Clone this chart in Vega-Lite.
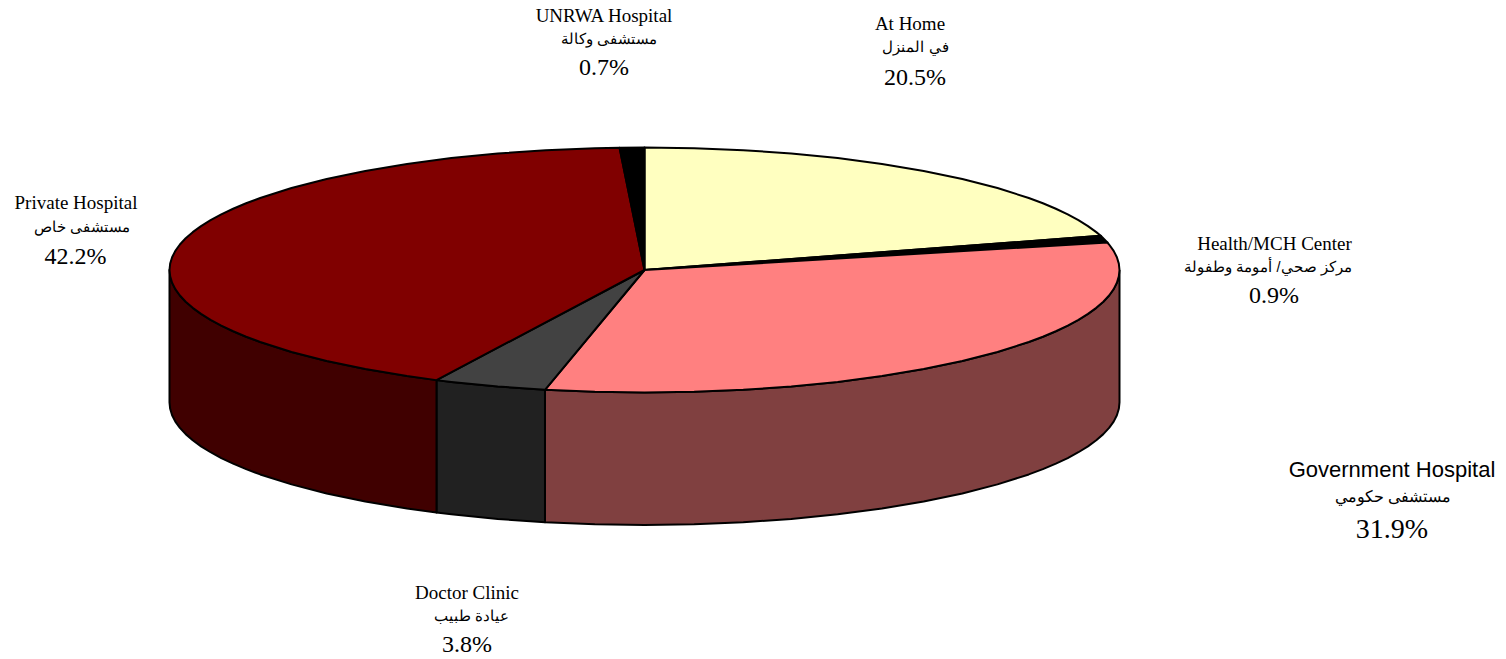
{"$schema":"https://vega.github.io/schema/vega-lite/v6.json","width":1506,"height":659,"autosize":{"type":"fit","contains":"padding"},"padding":0,"background":"white","view":{"stroke":null},
"datasets":{
"faces":[
{"f":"Government side","s":1,"x":1,"y":0},{"f":"Government side","s":2,"x":0.9945,"y":-0.1045},{"f":"Government side","s":3,"x":0.9781,"y":-0.2079},{"f":"Government side","s":4,"x":0.9511,"y":-0.309},{"f":"Government side","s":5,"x":0.9135,"y":-0.4067},{"f":"Government side","s":6,"x":0.866,"y":-0.5},{"f":"Government side","s":7,"x":0.809,"y":-0.5878},{"f":"Government side","s":8,"x":0.7431,"y":-0.6691},{"f":"Government side","s":9,"x":0.6691,"y":-0.7431},{"f":"Government side","s":10,"x":0.5878,"y":-0.809},{"f":"Government side","s":11,"x":0.5,"y":-0.866},{"f":"Government side","s":12,"x":0.4067,"y":-0.9135},{"f":"Government side","s":13,"x":0.309,"y":-0.9511},{"f":"Government side","s":14,"x":0.2079,"y":-0.9781},{"f":"Government side","s":15,"x":0.1045,"y":-0.9945},{"f":"Government side","s":16,"x":0,"y":-1},{"f":"Government side","s":17,"x":-0.1045,"y":-0.9945},{"f":"Government side","s":18,"x":-0.2095,"y":-0.9778},
{"f":"Government side","s":19,"x":-0.2095,"y":-2.0588},{"f":"Government side","s":20,"x":-0.1045,"y":-2.0755},{"f":"Government side","s":21,"x":0,"y":-2.081},{"f":"Government side","s":22,"x":0.1045,"y":-2.0755},{"f":"Government side","s":23,"x":0.2079,"y":-2.0591},{"f":"Government side","s":24,"x":0.309,"y":-2.0321},{"f":"Government side","s":25,"x":0.4067,"y":-1.9945},{"f":"Government side","s":26,"x":0.5,"y":-1.947},{"f":"Government side","s":27,"x":0.5878,"y":-1.89},{"f":"Government side","s":28,"x":0.6691,"y":-1.8241},{"f":"Government side","s":29,"x":0.7431,"y":-1.7501},{"f":"Government side","s":30,"x":0.809,"y":-1.6688},{"f":"Government side","s":31,"x":0.866,"y":-1.581},{"f":"Government side","s":32,"x":0.9135,"y":-1.4877},{"f":"Government side","s":33,"x":0.9511,"y":-1.39},{"f":"Government side","s":34,"x":0.9781,"y":-1.2889},{"f":"Government side","s":35,"x":0.9945,"y":-1.1855},{"f":"Government side","s":36,"x":1,"y":-1.081},{"f":"Government side","s":37,"x":1,"y":0},
{"f":"Government side","s":1.5,"x":0.9986,"y":-0.0523},{"f":"Government side","s":2.5,"x":0.9877,"y":-0.1564},{"f":"Government side","s":3.5,"x":0.9659,"y":-0.2588},{"f":"Government side","s":4.5,"x":0.9336,"y":-0.3584},{"f":"Government side","s":5.5,"x":0.891,"y":-0.454},{"f":"Government side","s":6.5,"x":0.8387,"y":-0.5446},
{"f":"Government side","s":30.5,"x":0.8387,"y":-1.6256},{"f":"Government side","s":31.5,"x":0.891,"y":-1.535},{"f":"Government side","s":32.5,"x":0.9336,"y":-1.4394},{"f":"Government side","s":33.5,"x":0.9659,"y":-1.3398},{"f":"Government side","s":34.5,"x":0.9877,"y":-1.2374},{"f":"Government side","s":35.5,"x":0.9986,"y":-1.1333},
{"f":"Doctor side","s":1,"x":-0.2095,"y":-0.9778},{"f":"Doctor side","s":2,"x":-0.309,"y":-0.9511},{"f":"Doctor side","s":3,"x":-0.4067,"y":-0.9135},{"f":"Doctor side","s":4,"x":-0.4379,"y":-0.899},{"f":"Doctor side","s":5,"x":-0.4379,"y":-1.98},{"f":"Doctor side","s":6,"x":-0.4067,"y":-1.9945},{"f":"Doctor side","s":7,"x":-0.309,"y":-2.0321},{"f":"Doctor side","s":8,"x":-0.2095,"y":-2.0588},{"f":"Doctor side","s":9,"x":-0.2095,"y":-0.9778},
{"f":"Private side","s":1,"x":-0.4379,"y":-0.899},{"f":"Private side","s":2,"x":-0.5,"y":-0.866},{"f":"Private side","s":3,"x":-0.5878,"y":-0.809},{"f":"Private side","s":4,"x":-0.6691,"y":-0.7431},{"f":"Private side","s":5,"x":-0.7431,"y":-0.6691},{"f":"Private side","s":6,"x":-0.809,"y":-0.5878},{"f":"Private side","s":7,"x":-0.866,"y":-0.5},{"f":"Private side","s":8,"x":-0.9135,"y":-0.4067},{"f":"Private side","s":9,"x":-0.9511,"y":-0.309},{"f":"Private side","s":10,"x":-0.9781,"y":-0.2079},{"f":"Private side","s":11,"x":-0.9945,"y":-0.1045},{"f":"Private side","s":12,"x":-1,"y":0},
{"f":"Private side","s":13,"x":-1,"y":-1.081},{"f":"Private side","s":14,"x":-0.9945,"y":-1.1855},{"f":"Private side","s":15,"x":-0.9781,"y":-1.2889},{"f":"Private side","s":16,"x":-0.9511,"y":-1.39},{"f":"Private side","s":17,"x":-0.9135,"y":-1.4877},{"f":"Private side","s":18,"x":-0.866,"y":-1.581},{"f":"Private side","s":19,"x":-0.809,"y":-1.6688},{"f":"Private side","s":20,"x":-0.7431,"y":-1.7501},{"f":"Private side","s":21,"x":-0.6691,"y":-1.8241},{"f":"Private side","s":22,"x":-0.5878,"y":-1.89},{"f":"Private side","s":23,"x":-0.5,"y":-1.947},{"f":"Private side","s":24,"x":-0.4379,"y":-1.98},{"f":"Private side","s":25,"x":-0.4379,"y":-0.899},
{"f":"Private side","s":6.5,"x":-0.8387,"y":-0.5446},{"f":"Private side","s":7.5,"x":-0.891,"y":-0.454},{"f":"Private side","s":8.5,"x":-0.9336,"y":-0.3584},{"f":"Private side","s":9.5,"x":-0.9659,"y":-0.2588},{"f":"Private side","s":10.5,"x":-0.9877,"y":-0.1564},{"f":"Private side","s":11.5,"x":-0.9986,"y":-0.0523},
{"f":"Private side","s":13.5,"x":-0.9986,"y":-1.1333},{"f":"Private side","s":14.5,"x":-0.9877,"y":-1.2374},{"f":"Private side","s":15.5,"x":-0.9659,"y":-1.3398},{"f":"Private side","s":16.5,"x":-0.9336,"y":-1.4394},{"f":"Private side","s":17.5,"x":-0.891,"y":-1.535},{"f":"Private side","s":18.5,"x":-0.8387,"y":-1.6256},
{"f":"At Home","s":1,"x":0,"y":0},{"f":"At Home","s":2,"x":0,"y":1},{"f":"At Home","s":3,"x":0.1045,"y":0.9945},{"f":"At Home","s":4,"x":0.2079,"y":0.9781},{"f":"At Home","s":5,"x":0.309,"y":0.9511},{"f":"At Home","s":6,"x":0.4067,"y":0.9135},{"f":"At Home","s":7,"x":0.5,"y":0.866},{"f":"At Home","s":8,"x":0.5878,"y":0.809},{"f":"At Home","s":9,"x":0.6691,"y":0.7431},{"f":"At Home","s":10,"x":0.7431,"y":0.6691},{"f":"At Home","s":11,"x":0.809,"y":0.5878},{"f":"At Home","s":12,"x":0.866,"y":0.5},{"f":"At Home","s":13,"x":0.9135,"y":0.4067},{"f":"At Home","s":14,"x":0.9511,"y":0.309},{"f":"At Home","s":15,"x":0.9605,"y":0.279},{"f":"At Home","s":16,"x":0,"y":0},
{"f":"At Home","s":11.5,"x":0.8387,"y":0.5446},{"f":"At Home","s":12.5,"x":0.891,"y":0.454},{"f":"At Home","s":13.5,"x":0.9336,"y":0.3584},
{"f":"Health","s":1,"x":0,"y":0},{"f":"Health","s":2,"x":0.9605,"y":0.279},{"f":"Health","s":3,"x":0.9745,"y":0.2243},{"f":"Health","s":4,"x":0,"y":0},
{"f":"Government","s":1,"x":0,"y":0},{"f":"Government","s":2,"x":0.9745,"y":0.2243},{"f":"Government","s":3,"x":0.9781,"y":0.2079},{"f":"Government","s":4,"x":0.9945,"y":0.1045},{"f":"Government","s":5,"x":1,"y":0},{"f":"Government","s":6,"x":0.9945,"y":-0.1045},{"f":"Government","s":7,"x":0.9781,"y":-0.2079},{"f":"Government","s":8,"x":0.9511,"y":-0.309},{"f":"Government","s":9,"x":0.9135,"y":-0.4067},{"f":"Government","s":10,"x":0.866,"y":-0.5},{"f":"Government","s":11,"x":0.809,"y":-0.5878},{"f":"Government","s":12,"x":0.7431,"y":-0.6691},{"f":"Government","s":13,"x":0.6691,"y":-0.7431},{"f":"Government","s":14,"x":0.5878,"y":-0.809},{"f":"Government","s":15,"x":0.5,"y":-0.866},{"f":"Government","s":16,"x":0.4067,"y":-0.9135},{"f":"Government","s":17,"x":0.309,"y":-0.9511},{"f":"Government","s":18,"x":0.2079,"y":-0.9781},{"f":"Government","s":19,"x":0.1045,"y":-0.9945},{"f":"Government","s":20,"x":0,"y":-1},{"f":"Government","s":21,"x":-0.1045,"y":-0.9945},{"f":"Government","s":22,"x":-0.2095,"y":-0.9778},{"f":"Government","s":23,"x":0,"y":0},
{"f":"Government","s":3.5,"x":0.9877,"y":0.1564},{"f":"Government","s":4.5,"x":0.9986,"y":0.0523},{"f":"Government","s":5.5,"x":0.9986,"y":-0.0523},{"f":"Government","s":6.5,"x":0.9877,"y":-0.1564},{"f":"Government","s":7.5,"x":0.9659,"y":-0.2588},{"f":"Government","s":8.5,"x":0.9336,"y":-0.3584},{"f":"Government","s":9.5,"x":0.891,"y":-0.454},{"f":"Government","s":10.5,"x":0.8387,"y":-0.5446},
{"f":"Doctor","s":1,"x":0,"y":0},{"f":"Doctor","s":2,"x":-0.2095,"y":-0.9778},{"f":"Doctor","s":3,"x":-0.309,"y":-0.9511},{"f":"Doctor","s":4,"x":-0.4067,"y":-0.9135},{"f":"Doctor","s":5,"x":-0.4379,"y":-0.899},{"f":"Doctor","s":6,"x":0,"y":0},
{"f":"Private","s":1,"x":0,"y":0},{"f":"Private","s":2,"x":-0.4379,"y":-0.899},{"f":"Private","s":3,"x":-0.5,"y":-0.866},{"f":"Private","s":4,"x":-0.5878,"y":-0.809},{"f":"Private","s":5,"x":-0.6691,"y":-0.7431},{"f":"Private","s":6,"x":-0.7431,"y":-0.6691},{"f":"Private","s":7,"x":-0.809,"y":-0.5878},{"f":"Private","s":8,"x":-0.866,"y":-0.5},{"f":"Private","s":9,"x":-0.9135,"y":-0.4067},{"f":"Private","s":10,"x":-0.9511,"y":-0.309},{"f":"Private","s":11,"x":-0.9781,"y":-0.2079},{"f":"Private","s":12,"x":-0.9945,"y":-0.1045},{"f":"Private","s":13,"x":-1,"y":0},{"f":"Private","s":14,"x":-0.9945,"y":0.1045},{"f":"Private","s":15,"x":-0.9781,"y":0.2079},{"f":"Private","s":16,"x":-0.9511,"y":0.309},{"f":"Private","s":17,"x":-0.9135,"y":0.4067},{"f":"Private","s":18,"x":-0.866,"y":0.5},{"f":"Private","s":19,"x":-0.809,"y":0.5878},{"f":"Private","s":20,"x":-0.7431,"y":0.6691},{"f":"Private","s":21,"x":-0.6691,"y":0.7431},{"f":"Private","s":22,"x":-0.5878,"y":0.809},{"f":"Private","s":23,"x":-0.5,"y":0.866},{"f":"Private","s":24,"x":-0.4067,"y":0.9135},{"f":"Private","s":25,"x":-0.309,"y":0.9511},{"f":"Private","s":26,"x":-0.2079,"y":0.9781},{"f":"Private","s":27,"x":-0.1045,"y":0.9945},{"f":"Private","s":28,"x":-0.0526,"y":0.9986},{"f":"Private","s":29,"x":0,"y":0},
{"f":"Private","s":7.5,"x":-0.8387,"y":-0.5446},{"f":"Private","s":8.5,"x":-0.891,"y":-0.454},{"f":"Private","s":9.5,"x":-0.9336,"y":-0.3584},{"f":"Private","s":10.5,"x":-0.9659,"y":-0.2588},{"f":"Private","s":11.5,"x":-0.9877,"y":-0.1564},{"f":"Private","s":12.5,"x":-0.9986,"y":-0.0523},{"f":"Private","s":13.5,"x":-0.9986,"y":0.0523},{"f":"Private","s":14.5,"x":-0.9877,"y":0.1564},{"f":"Private","s":15.5,"x":-0.9659,"y":0.2588},{"f":"Private","s":16.5,"x":-0.9336,"y":0.3584},{"f":"Private","s":17.5,"x":-0.891,"y":0.454},{"f":"Private","s":18.5,"x":-0.8387,"y":0.5446},
{"f":"UNRWA","s":1,"x":0,"y":0},{"f":"UNRWA","s":2,"x":-0.0526,"y":0.9986},{"f":"UNRWA","s":3,"x":0,"y":1},{"f":"UNRWA","s":4,"x":0,"y":0}
],
"labels":[
{"k":"name","t":"UNRWA Hospital","x":-0.0853,"y":2.0694},{"k":"arabic","t":"مستشفى وكالة","x":-0.0747,"y":1.8735},{"k":"pct","t":"0.7%","x":-0.0853,"y":1.6449},
{"k":"name","t":"At Home","x":0.5589,"y":2.0041},{"k":"arabic","t":"في المنزل","x":0.5705,"y":1.8082},{"k":"pct","t":"20.5%","x":0.5695,"y":1.5714},
{"k":"name","t":"Health/MCH Center","x":1.3263,"y":0.2163},{"k":"arabic","t":"مركز صحي/ أمومة وطفولة","x":1.3126,"y":0.0204},{"k":"pct","t":"0.9%","x":1.3253,"y":-0.2163},
{"k":"govname","t":"Government Hospital","x":1.5737,"y":-1.6286},{"k":"govarabic","t":"مستشفى حكومي","x":1.5758,"y":-1.8571},{"k":"govpct","t":"31.9%","x":1.5737,"y":-2.1184},
{"k":"name","t":"Doctor Clinic","x":-0.3737,"y":-2.6327},{"k":"arabic","t":"عيادة طبيب","x":-0.3632,"y":-2.8286},{"k":"pct","t":"3.8%","x":-0.3737,"y":-3.0653},
{"k":"name","t":"Private Hospital","x":-1.1968,"y":0.5429},{"k":"arabic","t":"مستشفى خاص","x":-1.1842,"y":0.3469},{"k":"pct","t":"42.2%","x":-1.1979,"y":0.1102}
]},
"encoding":{
"x":{"field":"x","type":"quantitative","axis":null,"scale":{"domain":[-1.35684,1.81368],"nice":false,"zero":false}},
"y":{"field":"y","type":"quantitative","axis":null,"scale":{"domain":[-3.17551,2.20408],"nice":false,"zero":false}}
},
"layer":[
{"data":{"name":"faces"},"mark":{"type":"line","stroke":"black","strokeWidth":2,"strokeJoin":"round","interpolate":"linear"},
"encoding":{"fill":{"field":"f","type":"nominal","legend":null,"scale":{"domain":["Government side","Doctor side","Private side","At Home","Health","Government","Doctor","Private","UNRWA"],"range":["#804040","#212121","#400000","#FFFFC0","#000000","#FF8080","#424242","#800000","#000000"]}},"order":{"field":"s","type":"quantitative"}}},
{"data":{"name":"labels"},"transform":[{"filter":"datum.k=='name'"}],"mark":{"type":"text","font":"Liberation Serif","fontSize":19,"color":"black","align":"center","baseline":"middle"},"encoding":{"text":{"field":"t"}}},
{"data":{"name":"labels"},"transform":[{"filter":"datum.k=='arabic'"}],"mark":{"type":"text","font":"Liberation Sans","fontSize":14.5,"color":"black","align":"center","baseline":"middle"},"encoding":{"text":{"field":"t"}}},
{"data":{"name":"labels"},"transform":[{"filter":"datum.k=='pct'"}],"mark":{"type":"text","font":"Liberation Serif","fontSize":24,"color":"black","align":"center","baseline":"middle"},"encoding":{"text":{"field":"t"}}},
{"data":{"name":"labels"},"transform":[{"filter":"datum.k=='govname'"}],"mark":{"type":"text","font":"Liberation Sans","fontSize":22,"color":"black","align":"center","baseline":"middle"},"encoding":{"text":{"field":"t"}}},
{"data":{"name":"labels"},"transform":[{"filter":"datum.k=='govarabic'"}],"mark":{"type":"text","font":"Liberation Sans","fontSize":16,"color":"black","align":"center","baseline":"middle"},"encoding":{"text":{"field":"t"}}},
{"data":{"name":"labels"},"transform":[{"filter":"datum.k=='govpct'"}],"mark":{"type":"text","font":"Liberation Serif","fontSize":28,"color":"black","align":"center","baseline":"middle"},"encoding":{"text":{"field":"t"}}}
]}
